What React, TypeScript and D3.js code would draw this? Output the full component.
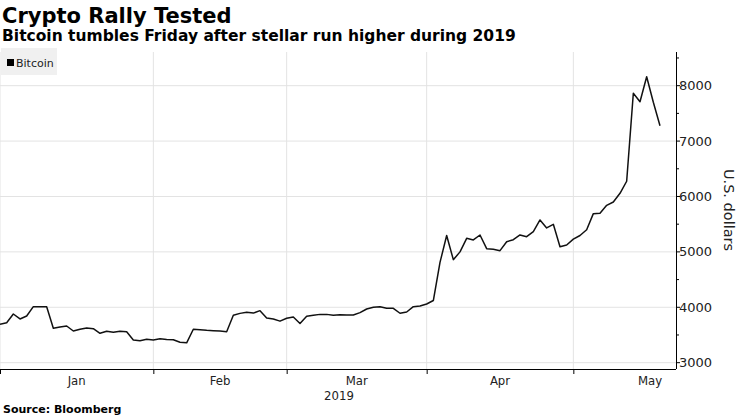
import React from "react";
import * as d3 from "d3";

const TITLE = "Crypto Rally Tested";
const SUBTITLE = "Bitcoin tumbles Friday after stellar run higher during 2019";
const SOURCE = "Source: Bloomberg";
const SERIES_NAME = "Bitcoin";
const Y_LABEL = "U.S. dollars";
const YEAR_LABEL = "2019";
const MONTH_LABELS = ["Jan", "Feb", "Mar", "Apr", "May"];
const Y_TICKS = [3000, 4000, 5000, 6000, 7000, 8000];
const Y_MINOR = [3500, 4500, 5500, 6500, 7500, 8500];

// Bitcoin closing prices, business days starting 2019-01-01
const bitcoin = [
  3693, 3722, 3879, 3789, 3843, 4011, 4011, 4011, 3621, 3644,
  3662, 3572, 3603, 3626, 3614, 3531, 3567, 3549, 3567, 3560,
  3410, 3397, 3422, 3410, 3433, 3420, 3415, 3370, 3358, 3603,
  3596, 3585, 3578, 3572, 3560, 3855, 3890, 3910, 3895, 3939,
  3806, 3788, 3750, 3801, 3825, 3708, 3840, 3855, 3872, 3872,
  3855, 3866, 3861, 3861, 3903, 3969, 4000, 4011, 3982, 3982,
  3892, 3915, 4011, 4023, 4060, 4122, 4810, 5295, 4860, 5000,
  5245, 5215, 5305, 5058, 5047, 5022, 5184, 5220, 5305, 5274,
  5365, 5576, 5432, 5498, 5094, 5125, 5230, 5296, 5400, 5690,
  5697, 5840, 5900, 6058, 6275, 7863, 7711, 8162, 7700, 7278,
];

// business-day calendar
function businessDays(start: Date, count: number): Date[] {
  const out: Date[] = [];
  const d = new Date(start.getTime());
  while (out.length < count) {
    const wd = d.getDay();
    if (wd !== 0 && wd !== 6) out.push(new Date(d.getTime()));
    d.setDate(d.getDate() + 1);
  }
  return out;
}

const W = 740;
const H = 416;
const plotLeft = 0;
const plotRight = 676;
const plotTop = 52;
const plotBottom = 369;

export default function App() {
  const days = businessDays(new Date(2019, 0, 1), 140);
  const x = d3.scaleLinear().domain([0, bitcoin.length - 1]).range([0, 660]);
  const y = d3.scaleLinear().domain([2886, 8608]).range([plotBottom, plotTop]);

  // month boundary indices
  const monthStarts: number[] = [];
  days.forEach((d, i) => {
    if (i === 0 || d.getMonth() !== days[i - 1].getMonth()) monthStarts.push(i);
  });
  const boundaries = monthStarts.slice(0, 5);
  const labelPos = MONTH_LABELS.map((_, k) => (x(monthStarts[k]) + x(monthStarts[k + 1])) / 2);

  const line = d3
    .line<number>()
    .x((_, i) => x(i))
    .y((v) => y(v));

  const gridColor = "#e3e3e3";
  const sans = "DejaVu Sans, Verdana, sans-serif";
  const narrow = "Liberation Sans Narrow, DejaVu Sans Condensed, Arial Narrow, sans-serif";

  return (
    <svg
      width={W}
      height={H}
      style={{ position: "absolute", left: 0, top: 0, background: "#fff" }}
    >
      <rect x={0} y={0} width={W} height={H} fill="#fff" />
      <text x={2} y={23} fontFamily={sans} fontWeight="bold" fontSize={21} fill="#000">
        {TITLE}
      </text>
      <text x={2} y={41} fontFamily={sans} fontWeight="bold" fontSize={15.5} fill="#000">
        {SUBTITLE}
      </text>

      {/* gridlines */}
      {Y_TICKS.map((t) => (
        <line key={"hg" + t} x1={plotLeft} x2={plotRight} y1={y(t)} y2={y(t)} stroke={gridColor} strokeWidth={1} />
      ))}
      {boundaries.map((b) => (
        <line key={"vg" + b} x1={x(b)} x2={x(b)} y1={plotTop} y2={plotBottom} stroke={gridColor} strokeWidth={1} />
      ))}

      {/* legend */}
      <rect x={1} y={48} width={56} height={27} fill="#f0f0f0" />
      <rect x={7} y={59} width={7} height={7} fill="#000" />
      <text x={16} y={67} fontFamily={sans} fontSize={11} fill="#222">
        {SERIES_NAME}
      </text>

      {/* line */}
      <path d={line(bitcoin) || ""} fill="none" stroke="#111" strokeWidth={1.5} strokeLinejoin="round" />

      {/* x axis */}
      <line x1={plotLeft} x2={plotRight} y1={plotBottom + 0.5} y2={plotBottom + 0.5} stroke="#000" strokeWidth={1} />
      {boundaries.map((b) => (
        <line key={"xt" + b} x1={x(b) + 0.5} x2={x(b) + 0.5} y1={plotBottom} y2={plotBottom + 5} stroke="#000" strokeWidth={1} />
      ))}
      {MONTH_LABELS.map((m, k) => (
        <text key={m} x={labelPos[k]} y={385} textAnchor="middle" fontFamily={narrow} fontSize={13} fill="#222">
          {m}
        </text>
      ))}
      <text x={339} y={400} textAnchor="middle" fontFamily={narrow} fontSize={13} fill="#222">
        {YEAR_LABEL}
      </text>

      {/* y axis (right) */}
      <line x1={plotRight + 0.5} x2={plotRight + 0.5} y1={plotTop} y2={plotBottom} stroke="#000" strokeWidth={1} />
      {Y_TICKS.map((t) => (
        <g key={"yt" + t}>
          <line x1={plotRight} x2={plotRight + 4} y1={y(t)} y2={y(t)} stroke="#000" strokeWidth={1} />
          <text x={plotRight + 3} y={y(t)} dy="0.35em" fontFamily={sans} fontSize={13} fill="#222">
            {t}
          </text>
        </g>
      ))}
      {Y_MINOR.map((t) => (
        <line key={"ym" + t} x1={plotRight} x2={plotRight + 3} y1={y(t)} y2={y(t)} stroke="#000" strokeWidth={1} />
      ))}
      <text
        transform={`translate(724, 210) rotate(90)`}
        textAnchor="middle"
        fontFamily={sans}
        fontSize={14.5}
        fill="#222"
      >
        {Y_LABEL}
      </text>

      <text x={3} y={413} fontFamily={sans} fontWeight="bold" fontSize={11} fill="#000">
        {SOURCE}
      </text>
    </svg>
  );
}
